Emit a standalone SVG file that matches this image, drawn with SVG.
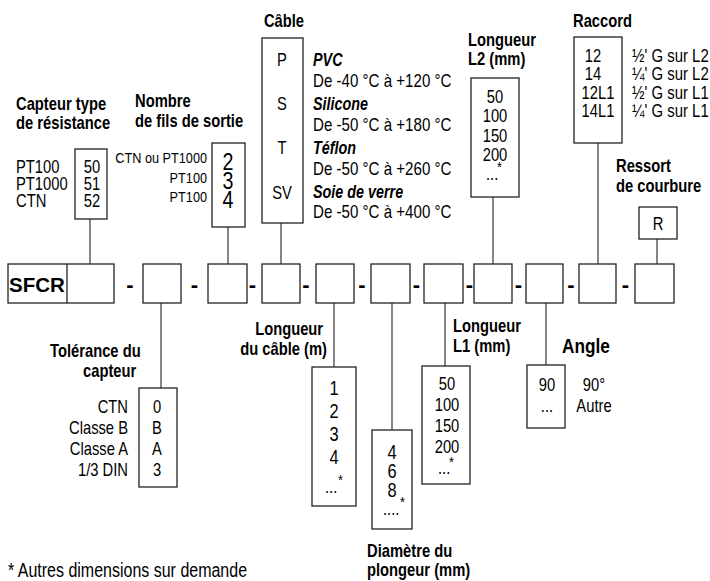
<svg xmlns="http://www.w3.org/2000/svg" width="710" height="581" viewBox="0 0 710 581">
<style>
text{font-family:"Liberation Sans",Arial,sans-serif;fill:#000;transform-box:fill-box;transform-origin:left center;transform:scaleX(0.82)}
.h{font-weight:bold;font-size:18px}
.hi{font-weight:bold;font-style:italic;font-size:17.5px}
.r{font-size:18px}
.c{font-size:18px;transform:scaleX(0.84)}
.g{font-size:18px;transform:scaleX(0.83)}
.s{font-size:15.5px}
.big{font-size:24px}
.v{font-size:20px}
.m{text-anchor:middle;transform-origin:center}
.e{text-anchor:end;transform-origin:right center}
.d{font-weight:bold;font-size:22px;text-anchor:middle;transform:none}
.n{transform:none}
.box{fill:#fff;stroke:#222;stroke-width:1.3}
.ln{stroke:#444;stroke-width:1.3;fill:none}
</style>
<rect width="710" height="581" fill="#fff"/>
<g id="connectors">
<line class="ln" x1="90" y1="219" x2="90" y2="264"/>
<line class="ln" x1="228" y1="227" x2="228" y2="264"/>
<line class="ln" x1="281" y1="223" x2="281" y2="264"/>
<line class="ln" x1="493" y1="197" x2="493" y2="264"/>
<line class="ln" x1="598" y1="143" x2="598" y2="264"/>
<line class="ln" x1="657" y1="239" x2="657" y2="264"/>
<line class="ln" x1="161" y1="303" x2="161" y2="388"/>
<line class="ln" x1="334" y1="303" x2="334" y2="367"/>
<line class="ln" x1="392" y1="303" x2="392" y2="430"/>
<line class="ln" x1="445" y1="303" x2="445" y2="366"/>
<line class="ln" x1="546" y1="303" x2="546" y2="365"/>
</g>
<g id="code-row">
<rect class="box" x="8" y="264" width="106" height="39"/>
<line class="ln" x1="67" y1="264" x2="67" y2="303" style="stroke:#222"/>
<text class="h n" x="9" y="292" style="font-size:20.5px">SFCR</text>
<rect class="box" x="143" y="264" width="38" height="39"/>
<rect class="box" x="208" y="264" width="39" height="39"/>
<rect class="box" x="262" y="264" width="38" height="39"/>
<rect class="box" x="316" y="264" width="38" height="39"/>
<rect class="box" x="371" y="264" width="39" height="39"/>
<rect class="box" x="424" y="264" width="39" height="39"/>
<rect class="box" x="474" y="264" width="38" height="39"/>
<rect class="box" x="526" y="264" width="37" height="39"/>
<rect class="box" x="579" y="264" width="37" height="39"/>
<rect class="box" x="635" y="264" width="39" height="39"/>
<text class="d" x="130" y="292">-</text>
<text class="d" x="194.5" y="292">-</text>
<text class="d" x="252.5" y="292">-</text>
<text class="d" x="306" y="292">-</text>
<text class="d" x="362" y="292">-</text>
<text class="d" x="416.5" y="292">-</text>
<text class="d" x="469.5" y="292">-</text>
<text class="d" x="518.5" y="292">-</text>
<text class="d" x="571" y="292">-</text>
<text class="d" x="625.5" y="292">-</text>
</g>
<g id="capteur-type">
<text class="h" x="16" y="110">Capteur type</text>
<text class="h" x="16" y="129">de résistance</text>
<rect class="box" x="75" y="149" width="32" height="70"/>
<text class="r" x="16" y="173">PT100</text>
<text class="r" x="16" y="190">PT1000</text>
<text class="r" x="16" y="207">CTN</text>
<text class="r m" x="92" y="173">50</text>
<text class="r m" x="92" y="190">51</text>
<text class="r m" x="92" y="207">52</text>
</g>
<g id="nombre-fils">
<text class="h" x="135" y="107">Nombre</text>
<text class="h" x="135" y="127">de fils de sortie</text>
<rect class="box" x="212" y="143" width="33" height="84"/>
<text class="s e" x="207" y="163">CTN ou PT1000</text>
<text class="s e" x="207" y="183">PT100</text>
<text class="s e" x="207" y="202">PT100</text>
<text class="big m" x="228" y="170">2</text>
<text class="big m" x="228" y="189">3</text>
<text class="big m" x="228" y="208">4</text>
</g>
<g id="cable">
<text class="h m" x="284" y="27">Câble</text>
<rect class="box" x="262" y="38" width="41" height="185"/>
<text class="r m" x="282" y="66">P</text>
<text class="r m" x="282" y="110">S</text>
<text class="r m" x="282" y="154.5">T</text>
<text class="r m" x="282" y="199">SV</text>
<text class="hi" x="313" y="66">PVC</text>
<text class="c" x="313" y="87">De -40 °C à +120 °C</text>
<text class="hi" x="313" y="110">Silicone</text>
<text class="c" x="313" y="131">De -50 °C à +180 °C</text>
<text class="hi" x="313" y="154">Téflon</text>
<text class="c" x="313" y="175">De -50 °C à +260 °C</text>
<text class="hi" x="313" y="198">Soie de verre</text>
<text class="c" x="313" y="218">De -50 °C à +400 °C</text>
</g>
<g id="longueur-l2">
<text class="h" x="468" y="46">Longueur</text>
<text class="h" x="468" y="65">L2 (mm)</text>
<rect class="box" x="471" y="78" width="48" height="119"/>
<text class="r m" x="495" y="103">50</text>
<text class="r m" x="495" y="122">100</text>
<text class="r m" x="495" y="142">150</text>
<text class="r m" x="495" y="161">200</text>
<text class="r" x="486" y="180">...</text>
<text class="s" x="497" y="172">*</text>
</g>
<g id="raccord">
<text class="h" x="573" y="27">Raccord</text>
<rect class="box" x="574" y="37" width="48" height="106"/>
<text class="r m" x="593" y="62">12</text>
<text class="r m" x="593" y="80.5">14</text>
<text class="r m" x="598" y="99">12L1</text>
<text class="r m" x="598" y="117.5">14L1</text>
<text class="g" x="632" y="62">½' G sur L2</text>
<text class="g" x="632" y="80.5">¼' G sur L2</text>
<text class="g" x="632" y="99">½' G sur L1</text>
<text class="g" x="632" y="117.5">¼' G sur L1</text>
</g>
<g id="ressort">
<text class="h" x="616" y="172">Ressort</text>
<text class="h" x="616" y="192">de courbure</text>
<rect class="box" x="639" y="207" width="38" height="32"/>
<text class="r m" x="658" y="230">R</text>
</g>
<g id="tolerance">
<text class="h" x="50" y="357">Tolérance du</text>
<text class="h" x="83" y="377">capteur</text>
<rect class="box" x="139" y="388" width="38" height="99"/>
<text class="r e" x="128" y="413">CTN</text>
<text class="r e" x="128" y="434">Classe B</text>
<text class="r e" x="128" y="455">Classe A</text>
<text class="r e" x="128" y="476">1/3 DIN</text>
<text class="r m" x="157" y="413">0</text>
<text class="r m" x="157" y="434">B</text>
<text class="r m" x="157" y="455">A</text>
<text class="r m" x="157" y="476">3</text>
</g>
<g id="longueur-cable">
<text class="h e" x="323" y="335">Longueur</text>
<text class="h e" x="327" y="355">du câble (m)</text>
<rect class="box" x="312" y="367" width="44" height="139"/>
<text class="v m" x="334" y="395">1</text>
<text class="v m" x="334" y="418">2</text>
<text class="v m" x="334" y="441">3</text>
<text class="v m" x="334" y="464">4</text>
<text class="r" x="325" y="493">...</text>
<text class="s" x="338" y="485">*</text>
</g>
<g id="diametre">
<rect class="box" x="372" y="430" width="40" height="99"/>
<text class="v m" x="392" y="459">4</text>
<text class="v m" x="392" y="478">6</text>
<text class="v m" x="392" y="497">8</text>
<text class="r" x="383" y="515">....</text>
<text class="s" x="400" y="507">*</text>
<text class="h" x="367" y="557">Diamètre du</text>
<text class="h" x="367" y="576">plongeur (mm)</text>
</g>
<g id="longueur-l1">
<text class="h" x="453" y="332">Longueur</text>
<text class="h" x="453" y="352">L1 (mm)</text>
<rect class="box" x="422" y="366" width="48" height="118"/>
<text class="r m" x="447" y="390">50</text>
<text class="r m" x="447" y="411">100</text>
<text class="r m" x="447" y="432">150</text>
<text class="r m" x="447" y="453">200</text>
<text class="r" x="438" y="474">...</text>
<text class="s" x="449" y="467">*</text>
</g>
<g id="angle">
<text class="h" x="562" y="353" style="font-size:21px">Angle</text>
<rect class="box" x="527" y="365" width="38" height="63"/>
<text class="r m" x="547" y="391">90</text>
<text class="r m" x="547" y="412">...</text>
<text class="r m" x="594" y="391">90°</text>
<text class="r m" x="594" y="412">Autre</text>
</g>
<text class="r" x="8" y="577" style="font-size:19.5px">* Autres dimensions sur demande</text>
</svg>
